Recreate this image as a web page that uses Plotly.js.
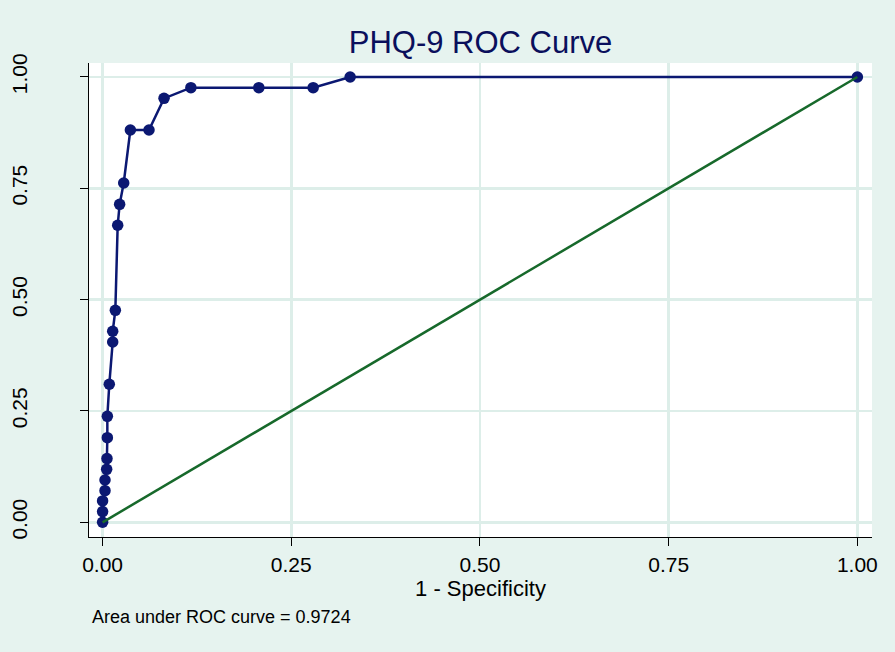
<!DOCTYPE html>
<html>
<head>
<meta charset="utf-8">
<script src="https://cdn.plot.ly/plotly-3.0.1.min.js"></script>
<style>html,body{margin:0;padding:0;background:#e6f3ef;}#chart{width:895px;height:652px;}</style>
</head>
<body>
<div id="chart"></div>
<script>
// 1 - Specificity (false positive rate)
var fpr = [0, 0, 0, 0.0032, 0.0032, 0.0054, 0.0058, 0.0063, 0.0063, 0.0089, 0.0134, 0.0134, 0.0169, 0.0200, 0.0226, 0.0280, 0.0368, 0.0615, 0.0814, 0.117, 0.207, 0.279, 0.328, 1];
// Sensitivity (true positive rate)
var tpr = [0, 0.024, 0.048, 0.071, 0.095, 0.119, 0.143, 0.190, 0.238, 0.310, 0.405, 0.429, 0.476, 0.667, 0.714, 0.762, 0.881, 0.881, 0.952, 0.976, 0.976, 0.976, 1.0, 1.0];
// Reference (chance) line
var refX = [0, 1];
var refY = [0, 1];
var tickVals = [0, 0.25, 0.5, 0.75, 1];
var tickText = ["0.00", "0.25", "0.50", "0.75", "1.00"];
var titleText = "PHQ-9 ROC Curve";
var xTitle = "1 - Specificity";
var noteText = "Area under ROC curve = 0.9724";

var font = "Liberation Sans, Arial, Helvetica, sans-serif";
var grid = "#ddeee9";

var traces = [
  {x: fpr, y: tpr, type: "scatter", mode: "lines+markers",
   line: {color: "#0b1872", width: 2.5},
   marker: {color: "#0b1872", size: 11.5},
   hoverinfo: "x+y"},
  {x: refX, y: refY, type: "scatter", mode: "lines",
   line: {color: "#17692b", width: 2.5}}
];

var layout = {
  width: 895, height: 652,
  paper_bgcolor: "#e6f3ef",
  plot_bgcolor: "#ffffff",
  showlegend: false,
  margin: {l: 89, r: 23, t: 63, b: 115},
  font: {family: font, color: "#000000"},
  title: {text: titleText, font: {family: font, size: 31, color: "#0a0f5c"},
          x: 0.5, xref: "paper", xanchor: "center", y: 1 - 42/652, yref: "container", yanchor: "middle"},
  xaxis: {
    range: [-0.018, 1.0194],
    tickvals: tickVals, ticktext: tickText,
    tickfont: {size: 21, family: font},
    ticks: "outside", ticklen: 8, tickwidth: 1, tickcolor: "#000",
    showline: true, linecolor: "#000", linewidth: 1.3,
    showgrid: true, gridcolor: grid, gridwidth: 2.5,
    zeroline: false, fixedrange: true,
    title: {text: xTitle, font: {size: 22, family: font}, standoff: 0},
    automargin: false
  },
  yaxis: {
    range: [-0.033, 1.0314],
    tickvals: tickVals, ticktext: tickText,
    tickangle: -90,
    tickfont: {size: 21, family: font},
    ticks: "outside", ticklen: 8, tickwidth: 1, tickcolor: "#000",
    ticklabelstandoff: 44,
    showline: true, linecolor: "#000", linewidth: 1.3,
    showgrid: true, gridcolor: grid, gridwidth: 2.5,
    zeroline: false, fixedrange: true,
    automargin: false
  },
  annotations: [
    {text: noteText, xref: "paper", yref: "paper", x: 0.001, y: (537 - 617) / 474,
     xanchor: "left", yanchor: "middle", showarrow: false,
     font: {size: 18, family: font, color: "#000"}}
  ]
};

Plotly.newPlot("chart", traces, layout, {displayModeBar: false, staticPlot: true});
</script>
</body>
</html>
